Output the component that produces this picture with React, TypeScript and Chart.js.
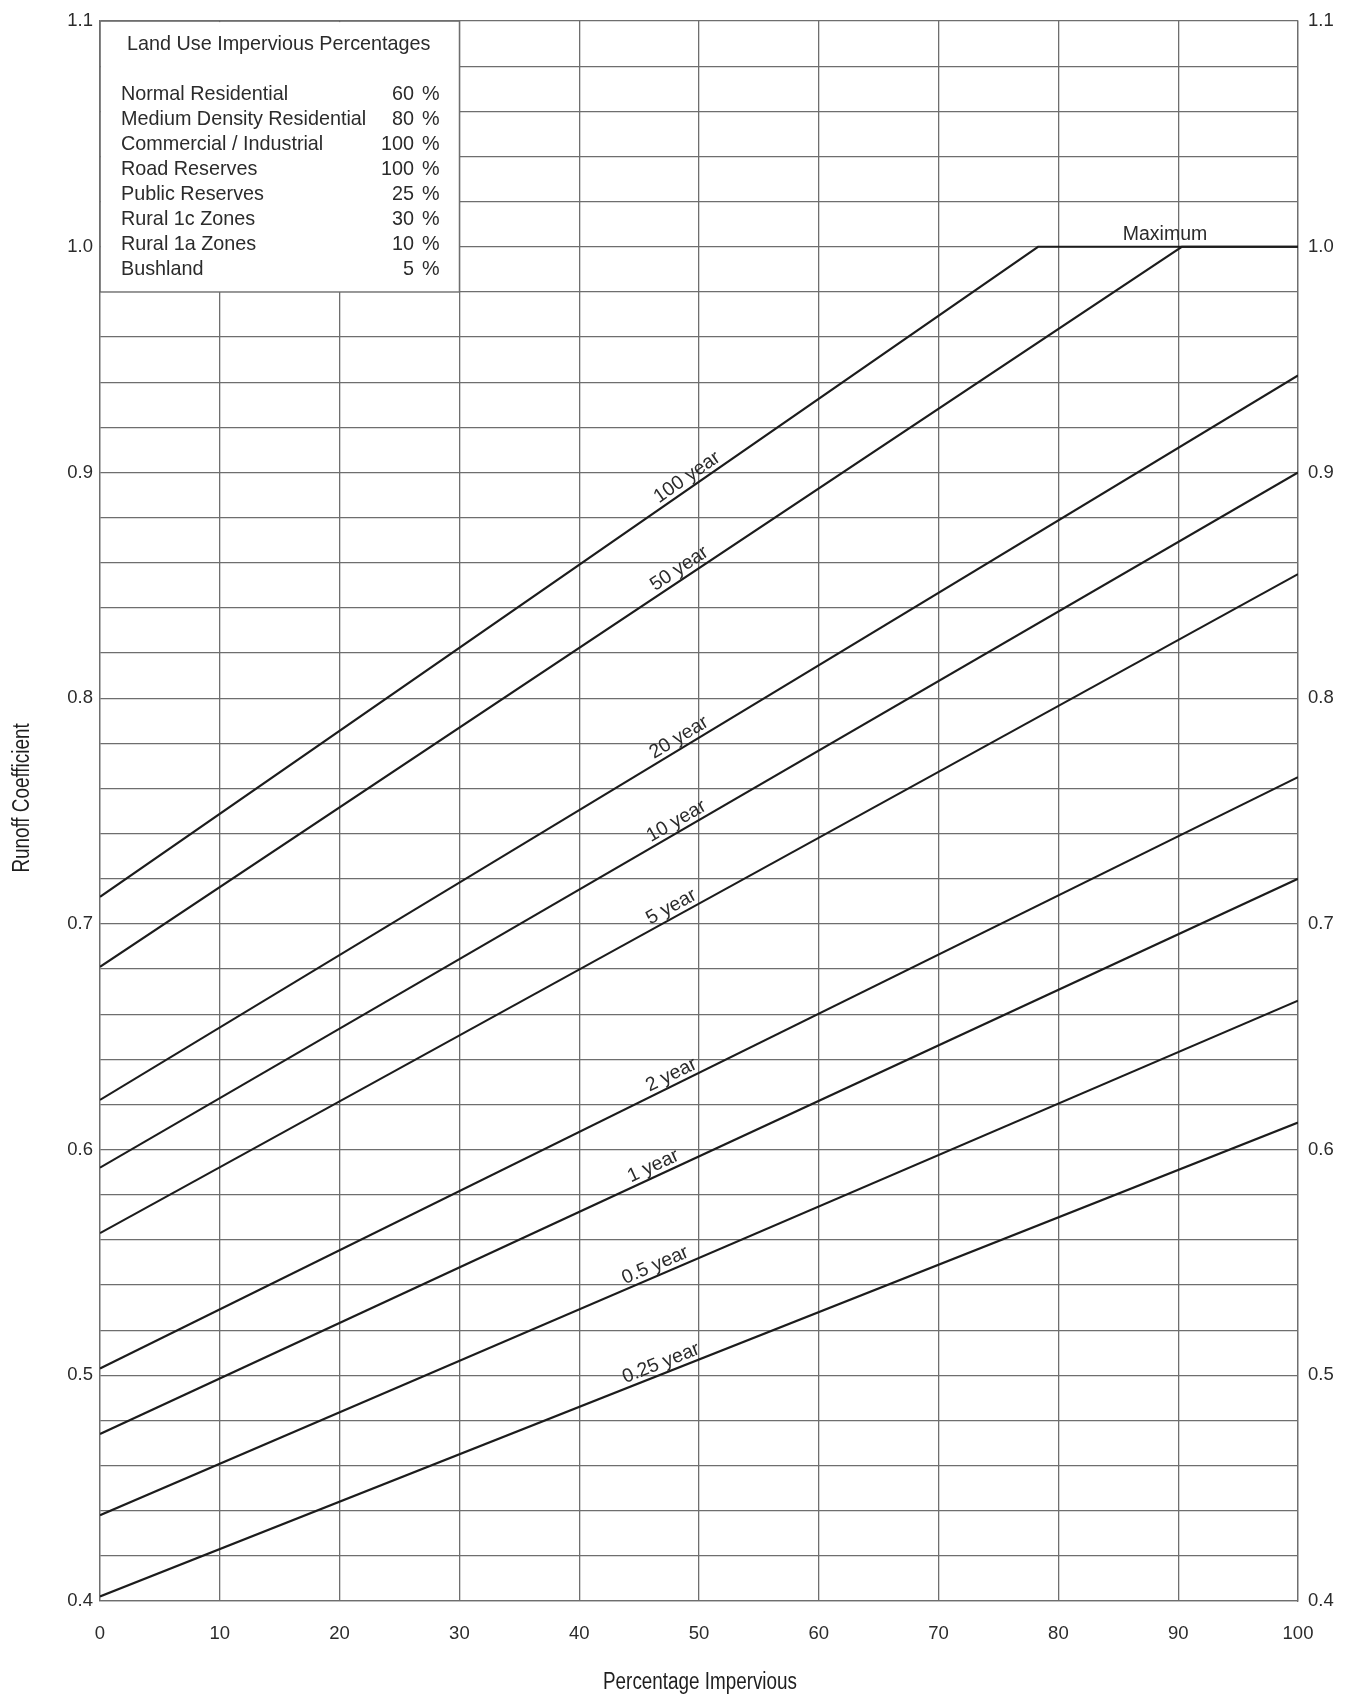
import React, { useEffect, useRef } from "react";
import { Chart, registerables } from "chart.js";

Chart.register(...registerables);

const W = 1354;
const H = 1700;

// ---- axis values ----
const xTickValues = [0, 10, 20, 30, 40, 50, 60, 70, 80, 90, 100];
const yLabelValues = [0.4, 0.5, 0.6, 0.7, 0.8, 0.9, 1.0, 1.1];
const yGridValues = [
  0.4, 0.42, 0.44, 0.46, 0.48, 0.5, 0.52, 0.54, 0.56, 0.58, 0.6, 0.62, 0.64, 0.66,
  0.68, 0.7, 0.72, 0.74, 0.76, 0.78, 0.8, 0.82, 0.84, 0.86, 0.88, 0.9, 0.92, 0.94,
  0.96, 0.98, 1.0, 1.02, 1.04, 1.06, 1.08, 1.1,
];

// ---- series (Percentage Impervious -> Runoff Coefficient) ----
const seriesNames = ["100 year", "50 year", "20 year", "10 year", "5 year", "2 year", "1 year", "0.5 year", "0.25 year"];
const x100yr = [0, 78.3, 100];
const y100yr = [0.712, 1.0, 1.0];
const x50yr = [0, 90.3, 100];
const y50yr = [0.681, 1.0, 1.0];
const xStraight = [0, 100];
const y20yr = [0.622, 0.943];
const y10yr = [0.592, 0.9];
const y5yr = [0.563, 0.855];
const y2yr = [0.503, 0.765];
const y1yr = [0.474, 0.72];
const y05yr = [0.438, 0.666];
const y025yr = [0.402, 0.612];
const labelEndX = [52.1, 51.1, 51.1, 50.9, 50.1, 50.1, 48.6, 49.4, 50.3];

const maximumLabel = "Maximum";
const maximumX = 88.9;
const maximumY = 1.0;

// ---- land use table ----
const landUseTitle = "Land Use Impervious Percentages";
const landUseNames = [
  "Normal Residential",
  "Medium Density Residential",
  "Commercial / Industrial",
  "Road Reserves",
  "Public Reserves",
  "Rural 1c Zones",
  "Rural 1a Zones",
  "Bushland",
];
const landUsePercents = [60, 80, 100, 100, 25, 30, 10, 5];

const xTitle = "Percentage Impervious";
const yTitle = "Runoff Coefficient";

// ---- styles ----
const FONT = "'Liberation Sans', Arial, Helvetica, sans-serif";
const TEXT = "#2b2b2b";
const GRID = "#6e6e6e";
const LINE = "#1c1c1c";
const BOX_X_MAX = 30;
const BOX_Y_MIN = 0.98;

const seriesX = [x100yr, x50yr, xStraight, xStraight, xStraight, xStraight, xStraight, xStraight, xStraight];
const seriesY = [y100yr, y50yr, y20yr, y10yr, y5yr, y2yr, y1yr, y05yr, y025yr];

function interp(xs: number[], ys: number[], x: number) {
  for (let i = 0; i < xs.length - 1; i++) {
    if (x >= xs[i] && x <= xs[i + 1]) {
      const t = (x - xs[i]) / (xs[i + 1] - xs[i]);
      return ys[i] + t * (ys[i + 1] - ys[i]);
    }
  }
  return ys[ys.length - 1];
}

const isLabel = (v: number) => yLabelValues.some((l) => Math.abs(l - v) < 1e-6);

const overlayPlugin = {
  id: "overlay",
  beforeDatasetsDraw(chart: any) {
    const { ctx } = chart;
    const x = chart.scales.x;
    const y = chart.scales.y;
    const l = x.getPixelForValue(0);
    const r = x.getPixelForValue(BOX_X_MAX);
    const t = y.getPixelForValue(1.1);
    const b = y.getPixelForValue(BOX_Y_MIN);
    ctx.save();
    ctx.fillStyle = "#ffffff";
    ctx.fillRect(l + 1, t + 1, r - l - 1, b - t - 1);
    ctx.strokeStyle = GRID;
    ctx.lineWidth = 1.3;
    ctx.strokeRect(l, t, r - l, b - t);
    ctx.fillStyle = TEXT;
    ctx.font = `19.8px ${FONT}`;
    ctx.textBaseline = "middle";
    ctx.textAlign = "center";
    ctx.fillText(landUseTitle, (l + r) / 2 - 1, t + 23);
    landUseNames.forEach((name, i) => {
      const yy = t + 73 + i * 25;
      ctx.textAlign = "left";
      ctx.fillText(name, l + 21, yy);
      ctx.textAlign = "right";
      ctx.fillText(String(landUsePercents[i]), l + 314, yy);
      ctx.textAlign = "left";
      ctx.fillText("%", l + 322, yy);
    });
    ctx.restore();
  },
  afterDatasetsDraw(chart: any) {
    const { ctx } = chart;
    const x = chart.scales.x;
    const y = chart.scales.y;
    ctx.save();
    ctx.fillStyle = TEXT;
    ctx.font = `19.5px ${FONT}`;
    seriesNames.forEach((name, i) => {
      const xs = seriesX[i];
      const ys = seriesY[i];
      const lx = labelEndX[i];
      const px = x.getPixelForValue(lx);
      const py = y.getPixelForValue(interp(xs, ys, lx));
      const p1x = x.getPixelForValue(0);
      const p1y = y.getPixelForValue(interp(xs, ys, 0));
      const angle = Math.atan2(py - p1y, px - p1x);
      ctx.save();
      ctx.translate(px, py);
      ctx.rotate(angle);
      ctx.textAlign = "right";
      ctx.textBaseline = "alphabetic";
      ctx.fillText(name, 0, -5);
      ctx.restore();
    });
    ctx.font = `19.5px ${FONT}`;
    ctx.textAlign = "center";
    ctx.textBaseline = "alphabetic";
    ctx.fillText(maximumLabel, x.getPixelForValue(maximumX), y.getPixelForValue(maximumY) - 7);
    ctx.restore();
  },
  afterDraw(chart: any) {
    const { ctx } = chart;
    ctx.save();
    ctx.fillStyle = "#1e1e1e";
    ctx.font = `23px ${FONT}`;
    ctx.textAlign = "center";
    ctx.textBaseline = "middle";
    // condensed look of the original axis titles
    ctx.save();
    ctx.translate(700, 1683);
    ctx.scale(0.82, 1);
    ctx.fillText(xTitle, 0, 0);
    ctx.restore();
    ctx.save();
    ctx.translate(23, 798);
    ctx.rotate(-Math.PI / 2);
    ctx.scale(0.82, 1);
    ctx.fillText(yTitle, 0, 0);
    ctx.restore();
    ctx.restore();
  },
};

export default function App() {
  const ref = useRef<HTMLCanvasElement | null>(null);
  useEffect(() => {
    if (!ref.current) return;
    const datasets = seriesNames.map((name, i) => ({
      label: name,
      data: seriesX[i].map((xv, j) => ({ x: xv, y: seriesY[i][j] })),
      borderColor: LINE,
      borderWidth: 2.1,
      pointRadius: 0,
      tension: 0,
      fill: false,
    }));
    const tickFont = { family: FONT, size: 18.5 };
    const chart = new Chart(ref.current, {
      type: "line",
      data: { datasets },
      plugins: [overlayPlugin],
      options: {
        animation: false,
        responsive: false,
        devicePixelRatio: 1,
        layout: { padding: { top: 18, left: 0, right: 0, bottom: 0 } },
        plugins: { legend: { display: false }, tooltip: { enabled: false }, title: { display: false } },
        scales: {
          x: {
            type: "linear",
            min: 0,
            max: 100,
            afterBuildTicks: (s: any) => {
              s.ticks = xTickValues.map((v) => ({ value: v }));
            },
            afterFit: (s: any) => {
              s.height = 99;
            },
            ticks: { padding: 22, font: tickFont, color: TEXT, autoSkip: false, maxRotation: 0, callback: (v: any) => String(v) },
            grid: { color: GRID, lineWidth: 1.3, drawTicks: false },
            border: { color: GRID, width: 1.3 },
          },
          y: {
            type: "linear",
            position: "left",
            min: 0.4,
            max: 1.1,
            afterBuildTicks: (s: any) => {
              s.ticks = yGridValues.map((v) => ({ value: v }));
            },
            afterFit: (s: any) => {
              s.width = 100;
            },
            ticks: {
              padding: 7,
              font: tickFont,
              color: TEXT,
              autoSkip: false,
              callback: (v: any) => (isLabel(Number(v)) ? Number(v).toFixed(1) : ""),
            },
            grid: { color: GRID, lineWidth: 1.3, drawTicks: false },
            border: { color: GRID, width: 1.3 },
          },
          y2: {
            type: "linear",
            position: "right",
            min: 0.4,
            max: 1.1,
            afterBuildTicks: (s: any) => {
              s.ticks = yLabelValues.map((v) => ({ value: v }));
            },
            afterFit: (s: any) => {
              s.width = 56;
            },
            ticks: {
              padding: 10,
              font: tickFont,
              color: TEXT,
              autoSkip: false,
              callback: (v: any) => Number(v).toFixed(1),
            },
            grid: { display: false, drawTicks: false },
            border: { color: GRID, width: 1.3 },
          },
        },
      } as any,
    });
    return () => chart.destroy();
  }, []);
  return (
    <div style={{ position: "absolute", left: 0, top: 0, width: W, height: H, background: "#ffffff" }}>
      <canvas ref={ref} width={W} height={H} style={{ width: W, height: H, display: "block" }} />
    </div>
  );
}
